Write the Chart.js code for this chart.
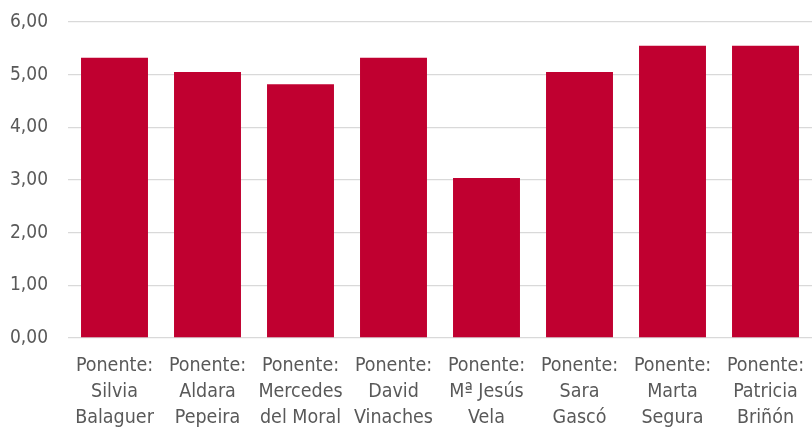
<!DOCTYPE html>
<html>
<head>
<meta charset="utf-8">
<script src="https://cdn.jsdelivr.net/npm/chart.js@4/dist/chart.umd.min.js"></script>
<style>
  html, body { margin: 0; padding: 0; background: #fff; }
  #wrap { width: 812px; height: 433px; }
</style>
</head>
<body>
<div id="wrap"><canvas id="barchart"></canvas></div>
<script>
const ponentes = [
    ['Ponente:', 'Silvia', 'Balaguer'],
    ['Ponente:', 'Aldara', 'Pepeira'],
    ['Ponente:', 'Mercedes', 'del Moral'],
    ['Ponente:', 'David', 'Vinaches'],
    ['Ponente:', 'Mª Jesús', 'Vela'],
    ['Ponente:', 'Sara', 'Gascó'],
    ['Ponente:', 'Marta', 'Segura'],
    ['Ponente:', 'Patricia', 'Briñón']
];
const valoracion = [5.32, 5.05, 4.82, 5.32, 3.04, 5.05, 5.55, 5.55];
const yTicks = [0, 1, 2, 3, 4, 5, 6];

const fontFamily = "'Liberation Sans Narrow', 'DejaVu Sans Condensed', 'Open Sans', sans-serif";

const ctx = document.getElementById('barchart').getContext('2d');
const barchart = new Chart(ctx, {
    type: 'bar',
    data: {
        labels: ponentes,
        datasets: [
            {
                label: 'Valoración',
                data: valoracion,
                backgroundColor: '#C00030',
                borderWidth: 0,
                barPercentage: 0.72,
                categoryPercentage: 1
            }
        ]
    },
    options: {
        responsive: true,
        maintainAspectRatio: false,
        animation: false,
        layout: {
            padding: { top: 22, right: 0, left: 6, bottom: 0 }
        },
        scales: {
            x: {
                grid: { display: false },
                border: { display: false },
                afterFit: s => {
                    s.height = 95;
                    s.paddingLeft = 0;
                    s.paddingRight = 0;
                },
                ticks: {
                    color: '#595959',
                    maxRotation: 0,
                    autoSkip: false,
                    padding: 7,
                    font: { family: fontFamily, size: 19.5, lineHeight: 1.33 }
                }
            },
            y: {
                min: 0,
                max: 6,
                afterBuildTicks: axis => {
                    axis.ticks = yTicks.map(v => ({ value: v }));
                },
                afterFit: s => {
                    s.width = 62;
                    s.paddingTop = 0;
                    s.paddingBottom = 0;
                },
                grid: {
                    color: '#d9d9d9',
                    lineWidth: 1.3,
                    drawTicks: false
                },
                border: { display: false },
                ticks: {
                    color: '#595959',
                    padding: 20,
                    font: { family: fontFamily, size: 19 },
                    callback: v => v.toFixed(2).replace('.', ',')
                }
            }
        },
        plugins: {
            legend: { display: false },
            tooltip: { enabled: false }
        }
    }
});
</script>
</body>
</html>
